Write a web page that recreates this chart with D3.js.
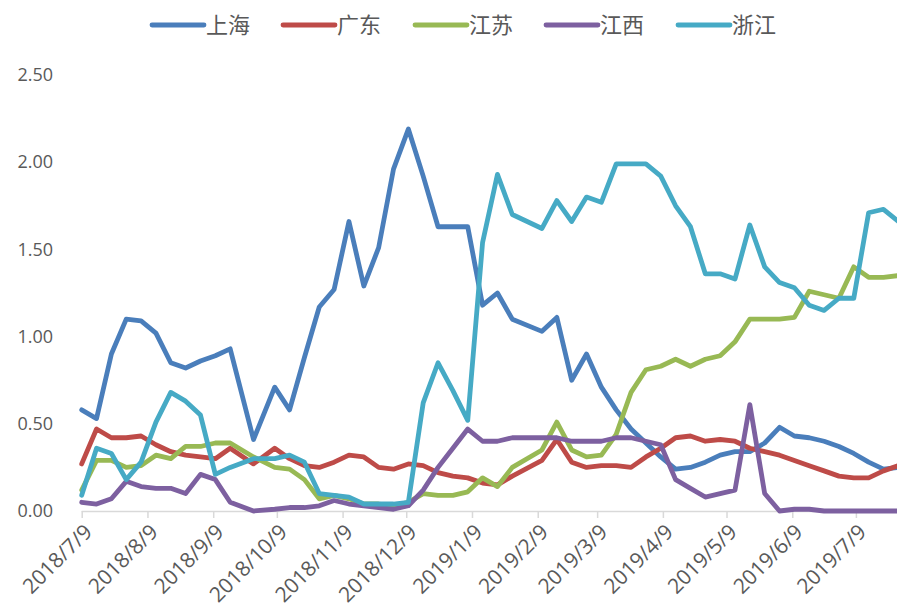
<!DOCTYPE html>
<html><head><meta charset="utf-8">
<script src="https://cdn.jsdelivr.net/npm/d3@7"></script>
<style>
html,body{margin:0;padding:0;background:#fff;}
svg{display:block;}
</style></head>
<body>
<svg id="chart" width="897" height="614"></svg>
<script>
const dates = ["2018/7/9","2018/7/16","2018/7/23","2018/7/30","2018/8/6","2018/8/13","2018/8/20","2018/8/27","2018/9/3","2018/9/10","2018/9/17","2018/9/28","2018/10/8","2018/10/15","2018/10/22","2018/10/29","2018/11/5","2018/11/12","2018/11/19","2018/11/26","2018/12/3","2018/12/10","2018/12/17","2018/12/24","2018/12/31","2019/1/7","2019/1/14","2019/1/21","2019/1/28","2019/2/11","2019/2/18","2019/2/25","2019/3/4","2019/3/11","2019/3/18","2019/3/25","2019/4/1","2019/4/8","2019/4/15","2019/4/22","2019/4/29","2019/5/6","2019/5/13","2019/5/20","2019/5/27","2019/6/3","2019/6/10","2019/6/17","2019/6/24","2019/7/1","2019/7/8","2019/7/15","2019/7/22","2019/7/29"];
const shanghai = [0.58,0.53,0.90,1.10,1.09,1.02,0.85,0.82,0.86,0.89,0.93,0.41,0.71,0.58,0.88,1.17,1.27,1.66,1.29,1.51,1.96,2.19,1.92,1.63,1.63,1.63,1.18,1.25,1.10,1.03,1.11,0.75,0.90,0.71,0.58,0.47,0.39,0.31,0.24,0.25,0.28,0.32,0.34,0.34,0.39,0.48,0.43,0.42,0.40,0.37,0.33,0.28,0.24,0.25];
const guangdong = [0.27,0.47,0.42,0.42,0.43,0.38,0.34,0.32,0.31,0.30,0.36,0.27,0.36,0.30,0.26,0.25,0.28,0.32,0.31,0.25,0.24,0.27,0.26,0.22,0.20,0.19,0.16,0.15,0.20,0.29,0.41,0.28,0.25,0.26,0.26,0.25,0.31,0.36,0.42,0.43,0.40,0.41,0.40,0.36,0.34,0.32,0.29,0.26,0.23,0.20,0.19,0.19,0.23,0.26];
const jiangsu = [0.12,0.29,0.29,0.25,0.26,0.32,0.30,0.37,0.37,0.39,0.39,0.31,0.25,0.24,0.18,0.07,0.09,0.07,0.04,0.04,0.03,0.05,0.10,0.09,0.09,0.11,0.19,0.14,0.25,0.35,0.51,0.35,0.31,0.32,0.44,0.68,0.81,0.83,0.87,0.83,0.87,0.89,0.97,1.10,1.10,1.10,1.11,1.26,1.24,1.22,1.40,1.34,1.34,1.35];
const jiangxi = [0.05,0.04,0.07,0.17,0.14,0.13,0.13,0.10,0.21,0.18,0.05,0.00,0.01,0.02,0.02,0.03,0.06,0.04,0.03,0.02,0.01,0.03,0.12,0.25,0.36,0.47,0.40,0.40,0.42,0.42,0.42,0.40,0.40,0.40,0.42,0.42,0.40,0.38,0.18,0.13,0.08,0.10,0.12,0.61,0.10,0.00,0.01,0.01,0.00,0.00,0.00,0.00,0.00,0.00];
const zhejiang = [0.09,0.36,0.33,0.18,0.28,0.51,0.68,0.63,0.55,0.21,0.25,0.30,0.30,0.32,0.28,0.10,0.09,0.08,0.04,0.04,0.04,0.05,0.62,0.85,0.69,0.52,1.54,1.93,1.70,1.62,1.78,1.66,1.80,1.77,1.99,1.99,1.99,1.92,1.75,1.63,1.36,1.36,1.33,1.64,1.40,1.31,1.28,1.18,1.15,1.22,1.22,1.71,1.73,1.66];
const seriesNames = ["上海","广东","江苏","江西","浙江"];
const seriesColors = ["#4A7EBB","#BE4B48","#98B954","#7D60A0","#46AAC5"];
const xTickLabels = ["2018/7/9","2018/8/9","2018/9/9","2018/10/9","2018/11/9","2018/12/9","2019/1/9","2019/2/9","2019/3/9","2019/4/9","2019/5/9","2019/6/9","2019/7/9"];
const yTicks = [0,0.5,1.0,1.5,2.0,2.5];

const parse = d3.timeParse("%Y/%-m/%-d");
const seriesValues = [shanghai, guangdong, jiangsu, jiangxi, zhejiang];
const series = seriesNames.map((n,i)=>({name:n,color:seriesColors[i],values:seriesValues[i].map((v,j)=>({d:parse(dates[j]),v}))}));

const svg = d3.select("#chart");
svg.append("rect").attr("width",897).attr("height",614).attr("fill","#fff");

const x = d3.scaleTime().domain([parse("2018/7/9"), parse("2019/7/9")]).range([81.7, 855.9]);
const y = d3.scaleLinear().domain([0,2.5]).range([511,75]);
const W = 897;

// y axis labels
const yAxis = d3.axisLeft(y).tickValues(yTicks).tickFormat(d3.format(".2f")).tickSize(0).tickPadding(0);
const gy = svg.append("g").attr("transform","translate(53,0)").call(yAxis);
gy.select(".domain").remove();
gy.selectAll("text").attr("fill","#595959").style("font-family","'Open Sans',sans-serif").style("font-size","18px");

// x axis
const xAxis = d3.axisBottom(x).tickValues(xTickLabels.map(parse)).tickFormat(d3.timeFormat("%Y/%-m/%-d")).tickSize(7).tickSizeOuter(0);
const gx = svg.append("g").attr("transform","translate(0,511)").call(xAxis);
gx.select(".domain").attr("d",`M${x(parse("2018/7/9"))},0.5H${W}`).attr("stroke","#d9d9d9").attr("stroke-width",1.5);
gx.selectAll(".tick line").attr("stroke","#d9d9d9").attr("stroke-width",1.5);
gx.selectAll(".tick text")
  .attr("fill","#595959")
  .style("font-family","'Open Sans',sans-serif").style("font-size","21px")
  .attr("text-anchor","end")
  .attr("transform","translate(6,17) rotate(-45)")
  .attr("dy","0.35em").attr("y",0).attr("x",0);

// lines
const line = d3.line().x(d=>x(d.d)).y(d=>y(d.v));
svg.append("clipPath").attr("id","clip").append("rect").attr("x",0).attr("y",0).attr("width",W).attr("height",614);
const gl = svg.append("g").attr("clip-path","url(#clip)");
gl.selectAll("path").data(series).join("path")
  .attr("d",d=>line(d.values))
  .attr("fill","none").attr("stroke",d=>d.color).attr("stroke-width",4.8)
  .attr("stroke-linejoin","round").attr("stroke-linecap","round");

// legend
const legendX = [152,283,415,546,678];
const lg = svg.append("g");
series.forEach((s,i)=>{
  const g = lg.append("g").attr("transform",`translate(${legendX[i]},25)`);
  g.append("line").attr("x1",0).attr("x2",52).attr("y1",0).attr("y2",0).attr("stroke",s.color).attr("stroke-width",4.8).attr("stroke-linecap","round");
  g.append("text").attr("x",54).attr("y",0).attr("dy","0.36em").text(s.name)
    .attr("fill","#595959").style("font-family","'Noto Sans CJK SC',sans-serif").style("font-size","22px");
});
</script>
</body></html>
